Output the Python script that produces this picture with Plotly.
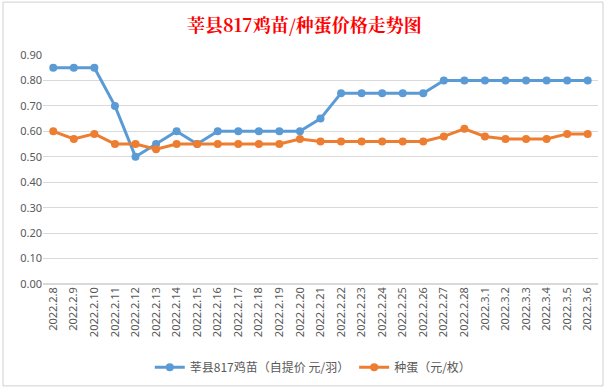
import plotly.graph_objects as go

dates = ["2022.2.8", "2022.2.9", "2022.2.10", "2022.2.11", "2022.2.12", "2022.2.13", "2022.2.14",
         "2022.2.15", "2022.2.16", "2022.2.17", "2022.2.18", "2022.2.19", "2022.2.20", "2022.2.21",
         "2022.2.22", "2022.2.23", "2022.2.24", "2022.2.25", "2022.2.26", "2022.2.27", "2022.2.28",
         "2022.3.1", "2022.3.2", "2022.3.3", "2022.3.4", "2022.3.5", "2022.3.6"]
chick = [0.85, 0.85, 0.85, 0.70, 0.50, 0.55, 0.60, 0.55, 0.60, 0.60, 0.60, 0.60, 0.60, 0.65,
         0.75, 0.75, 0.75, 0.75, 0.75, 0.80, 0.80, 0.80, 0.80, 0.80, 0.80, 0.80, 0.80]
egg = [0.60, 0.57, 0.59, 0.55, 0.55, 0.53, 0.55, 0.55, 0.55, 0.55, 0.55, 0.55, 0.57, 0.56,
       0.56, 0.56, 0.56, 0.56, 0.56, 0.58, 0.61, 0.58, 0.57, 0.57, 0.57, 0.59, 0.59]
y_ticks = [0.0, 0.1, 0.2, 0.3, 0.4, 0.5, 0.6, 0.7, 0.8, 0.9]

FONT = "Noto Sans CJK SC"
fig = go.Figure()
fig.add_trace(go.Scatter(x=dates, y=chick, mode="lines+markers", name="莘县817鸡苗（自提价 元/羽）",
                         line=dict(color="#5B9BD5", width=3), marker=dict(size=8, color="#5B9BD5")))
fig.add_trace(go.Scatter(x=dates, y=egg, mode="lines+markers", name="种蛋（元/枚）",
                         line=dict(color="#ED7D31", width=3), marker=dict(size=8, color="#ED7D31")))

fig.update_layout(
    width=615, height=389,
    paper_bgcolor="white", plot_bgcolor="white",
    margin=dict(l=43, r=17, t=55, b=105, autoexpand=False),
    title=dict(text="<b>莘县817鸡苗/种蛋价格走势图</b>", x=0.495, xanchor="center", y=0.935, yanchor="middle",
               font=dict(family="Noto Serif CJK SC, " + FONT, size=18, color="#FF0000")),
    font=dict(family=FONT, color="#595959"),
    showlegend=True,
    legend=dict(orientation="h", x=0.487, xanchor="center", y=-0.30, yanchor="top",
                font=dict(size=12, color="#595959", family=FONT), itemwidth=30,
                tracegroupgap=0),
    shapes=[dict(type="rect", xref="paper", yref="paper", x0=-0.072, x1=1.009, y0=-0.445, y1=1.231,
                 line=dict(color="#D0D0D0", width=1))],
)
fig.update_xaxes(type="category", range=[-0.5, len(dates) - 0.5], tickangle=-90, automargin=False,
                 tickfont=dict(size=11, color="#595959", family="Noto Sans"), showgrid=False,
                 showline=False, ticks="", ticklen=0)
fig.update_yaxes(range=[0, 0.9], tickvals=y_ticks, tickformat=".2f", automargin=False,
                 tickfont=dict(size=11, color="#595959", family="Noto Sans"),
                 gridcolor="#D9D9D9", gridwidth=1, zeroline=True, zerolinecolor="#D9D9D9",
                 showline=False, ticks="")
fig.write_html("out.html", config={"displayModeBar": False},
               post_script="document.body.style.margin='0';")
